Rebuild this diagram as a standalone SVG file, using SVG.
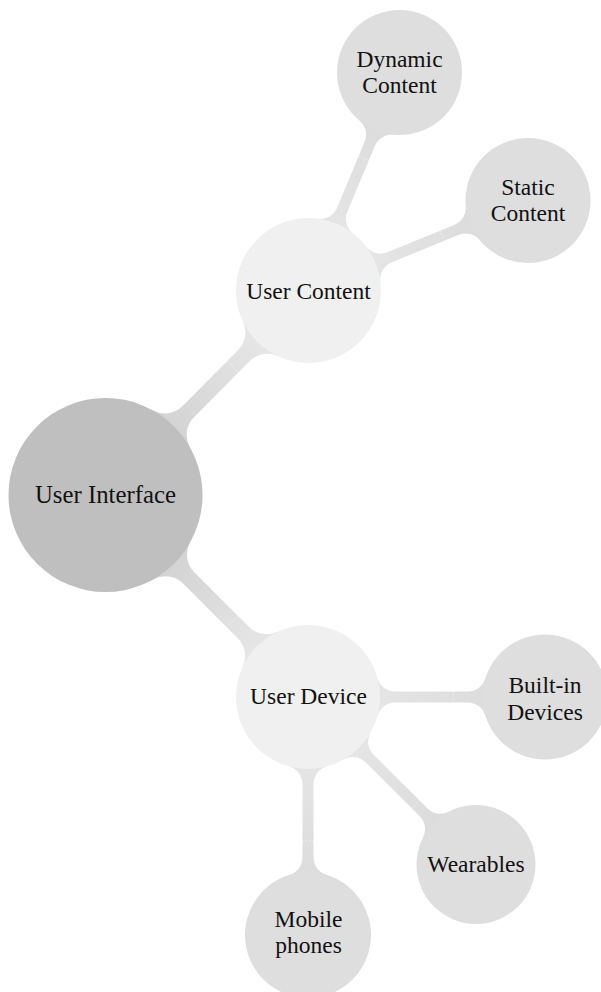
<svg xmlns="http://www.w3.org/2000/svg" width="601" height="992" viewBox="0 0 601 992">
<defs>
<style>
.t{font-family:"Liberation Serif","Times New Roman",serif;font-size:23.5px;fill:#111;text-anchor:middle}
.root{font-size:24.8px}
.tick{stroke:#ffffff;stroke-width:0.7;stroke-dasharray:2 1.2;opacity:0.7}
</style>
<linearGradient id="g1a" gradientUnits="userSpaceOnUse" x1="93" y1="0" x2="220" y2="0"><stop offset="0" stop-color="#d3d3d3"/><stop offset="1" stop-color="#e6e6e6"/></linearGradient>
<linearGradient id="g1b" gradientUnits="userSpaceOnUse" x1="93" y1="0" x2="218" y2="0"><stop offset="0" stop-color="#d3d3d3"/><stop offset="1" stop-color="#e6e6e6"/></linearGradient>
<linearGradient id="g2" gradientUnits="userSpaceOnUse" x1="70" y1="0" x2="178" y2="0"><stop offset="0" stop-color="#e5e5e5"/><stop offset="1" stop-color="#dcdcdc"/></linearGradient>
</defs>
<g id="connectors">
<g transform="translate(105.5,495) rotate(-45.21)">
<path fill="url(#g1a)" d="M93.38,-26.24 A25,25 0 0 0 117.45,-8 L196.40,-8 A25,25 0 0 0 219.93,-24.54 L219.93,24.54 A25,25 0 0 0 196.40,8 L117.45,8 A25,25 0 0 0 93.38,26.24 Z"/>
<line class="tick" x1="180.7" y1="-8" x2="180.7" y2="8"/>
</g>
<g transform="translate(105.5,495) rotate(44.93)">
<path fill="url(#g1b)" d="M93.38,-26.24 A25,25 0 0 0 117.45,-8 L194.81,-8 A25,25 0 0 0 218.32,-24.49 L218.32,24.49 A25,25 0 0 0 194.81,8 L117.45,8 A25,25 0 0 0 93.38,26.24 Z"/>
<line class="tick" x1="179" y1="-8" x2="179" y2="8"/>
</g>
<g transform="translate(308.5,290.5) rotate(-67.35)">
<path fill="url(#g2)" d="M70.02,-18.83 A18,18 0 0 0 87.40,-5.5 L159.24,-5.5 A18,18 0 0 0 176.45,-18.25 L176.45,18.25 A18,18 0 0 0 159.24,5.5 L87.40,5.5 A18,18 0 0 0 70.02,18.83 Z"/>
<line class="tick" x1="143.2" y1="-5.5" x2="143.2" y2="5.5"/>
</g>
<g transform="translate(308.5,290.5) rotate(-22.29)">
<path fill="url(#g2)" d="M70.02,-18.83 A18,18 0 0 0 87.40,-5.5 L160.24,-5.5 A18,18 0 0 0 177.45,-18.25 L177.45,18.25 A18,18 0 0 0 160.24,5.5 L87.40,5.5 A18,18 0 0 0 70.02,18.83 Z"/>
<line class="tick" x1="144.3" y1="-5.5" x2="144.3" y2="5.5"/>
</g>
<g transform="translate(308,697) rotate(0)">
<path fill="url(#g2)" d="M69.50,-18.8 A18,18 0 0 0 86.88,-5.5 L160.01,-5.5 A18,18 0 0 0 177.22,-18.25 L177.22,18.25 A18,18 0 0 0 160.01,5.5 L86.88,5.5 A18,18 0 0 0 69.50,18.8 Z"/>
<line class="tick" x1="145.3" y1="-5.5" x2="145.3" y2="5.5"/>
</g>
<g transform="translate(308,697) rotate(44.915)">
<path fill="url(#g2)" d="M69.50,-18.8 A18,18 0 0 0 86.88,-5.5 L163.38,-5.5 A18,18 0 0 0 180.53,-18.04 L180.53,18.04 A18,18 0 0 0 163.38,5.5 L86.88,5.5 A18,18 0 0 0 69.50,18.8 Z"/>
<line class="tick" x1="152" y1="-5.5" x2="152" y2="5.5"/>
</g>
<g transform="translate(308,697) rotate(90)">
<path fill="url(#g2)" d="M69.50,-18.8 A18,18 0 0 0 86.88,-5.5 L160.48,-5.5 A18,18 0 0 0 177.71,-18.28 L177.71,18.28 A18,18 0 0 0 160.48,5.5 L86.88,5.5 A18,18 0 0 0 69.50,18.8 Z"/>
<line class="tick" x1="144" y1="-5.5" x2="144" y2="5.5"/>
</g>
</g>
<g id="user-interface">
<circle cx="105.5" cy="495" r="97" fill="#bfbfbf"/>
<text class="t root" x="105.5" y="503">User Interface</text>
</g>
<g id="user-content">
<circle cx="308.5" cy="290.5" r="72.5" fill="#f0f0f0"/>
<text class="t" x="308.5" y="299">User Content</text>
</g>
<g id="user-device">
<circle cx="308" cy="697" r="72" fill="#f0f0f0"/>
<text class="t" x="308.5" y="704">User Device</text>
</g>
<g id="dynamic-content">
<circle cx="399.5" cy="72.5" r="62.5" fill="#dedede"/>
<text class="t" x="399.5" y="67">Dynamic</text>
<text class="t" x="399.5" y="93">Content</text>
</g>
<g id="static-content">
<circle cx="528" cy="200.5" r="62.5" fill="#dedede"/>
<text class="t" x="528" y="195">Static</text>
<text class="t" x="528" y="221">Content</text>
</g>
<g id="built-in-devices">
<circle cx="545" cy="697" r="62.5" fill="#dedede"/>
<text class="t" x="545" y="693">Built-in</text>
<text class="t" x="545" y="719.5">Devices</text>
</g>
<g id="wearables">
<circle cx="476" cy="864.5" r="59.5" fill="#dedede"/>
<text class="t" x="476" y="872">Wearables</text>
</g>
<g id="mobile-phones">
<circle cx="308" cy="935" r="63" fill="#dedede"/>
<text class="t" x="308.5" y="926.5">Mobile</text>
<text class="t" x="308.5" y="953">phones</text>
</g>
</svg>
